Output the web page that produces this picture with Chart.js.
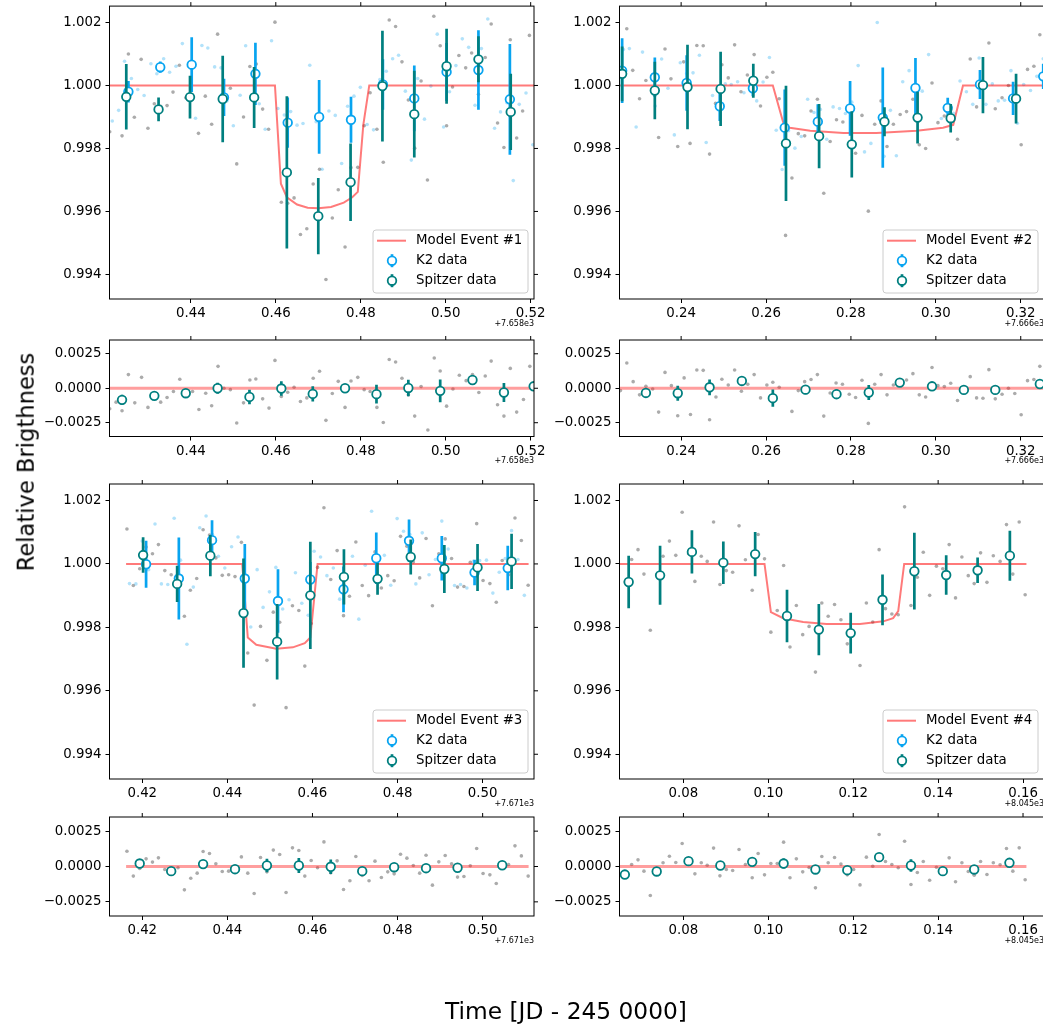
<!DOCTYPE html>
<html>
<head>
<meta charset="utf-8">
<script src="https://cdn.jsdelivr.net/npm/chart.js@4.4.1/dist/chart.umd.min.js"></script>
<style>
body{margin:0;width:1043px;height:1028px;overflow:hidden;background:#fff;position:relative}
canvas{position:absolute;left:0;top:0}
.lab{position:absolute;font-family:"DejaVu Sans",sans-serif;color:#000;white-space:nowrap;line-height:1}
#ylab{left:26px;top:462px;font-size:22.6px;transform:translate(-50%,-50%) rotate(-90deg)}
#xlab{left:566px;top:999px;font-size:23.3px;transform:translateX(-50%)}
</style>
</head>
<body>
<canvas id="m1" width="1100" height="1028"></canvas>
<canvas id="r1" width="1100" height="1028"></canvas>
<canvas id="m2" width="1100" height="1028"></canvas>
<canvas id="r2" width="1100" height="1028"></canvas>
<canvas id="m3" width="1100" height="1028"></canvas>
<canvas id="r3" width="1100" height="1028"></canvas>
<canvas id="m4" width="1100" height="1028"></canvas>
<canvas id="r4" width="1100" height="1028"></canvas>
<div class="lab" id="ylab">Relative Brigthness</div>
<div class="lab" id="xlab">Time [JD - 245 0000]</div>
<script>
// ---- shared axes ----
var mainYRange = [0.99322, 1.00252];
var mainYTicks = [0.994, 0.996, 0.998, 1.000, 1.002];
var resYRange = [-0.0035, 0.0035];
var resYTicks = [-0.0025, 0, 0.0025];

// ---- event #1 ----
var e1Offset = 7658;
var e1XRange = [0.42085, 0.52078];
var e1XTicks = [0.44, 0.46, 0.48, 0.50, 0.52];
var e1GreyTime = [0.4209,0.4238,0.4253,0.4267,0.4283,0.4299,0.4314,0.4329,0.4344,0.4358,0.4373,0.4388,0.4418,0.4434,0.4449,0.4463,0.4478,0.4493,0.4508,0.4524,0.4539,0.4554,0.4569,0.4583,0.4598,0.4613,0.4628,0.4643,0.4658,0.4673,0.4688,0.4703,0.4718,0.4733,0.4747,0.4763,0.4777,0.4793,0.4808,0.4822,0.4838,0.4853,0.4867,0.4882,0.4897,0.4912,0.4927,0.4942,0.4957,0.4972,0.4987,0.5002,0.5016,0.5031,0.5047,0.5061,0.5077,0.5093,0.5107,0.5122,0.5137,0.5152,0.5167,0.5181,0.5197];
var e1GreyFlux = [0.99853,0.99840,1.00100,0.99899,1.00083,0.99864,0.99942,0.99934,0.99936,0.99979,1.00064,0.99961,0.99848,0.99966,0.99877,1.00163,0.99961,0.99991,0.99751,0.99900,1.00060,1.00068,0.99925,0.99861,1.00201,0.99629,0.99626,0.99643,0.99527,0.99545,0.99687,0.99734,0.99384,0.99579,0.99669,0.99487,0.99739,0.99740,0.99872,0.99977,0.99861,0.99756,1.00208,1.00187,1.00075,0.99954,0.99801,1.00014,0.99700,1.00220,1.00126,0.99872,0.99995,1.00095,1.00056,1.00103,0.99972,1.00089,1.00195,0.99881,0.99803,1.00145,0.99833,0.99919,1.00159];
var e1K2Time = [0.4215,0.4230,0.4244,0.4260,0.4275,0.4290,0.4306,0.4320,0.4336,0.4350,0.4365,0.4380,0.4395,0.4411,0.4426,0.4440,0.4456,0.4471,0.4485,0.4500,0.4516,0.4529,0.4546,0.4561,0.4575,0.4590,0.4605,0.4620,0.4635,0.4650,0.4664,0.4680,0.4695,0.4709,0.4725,0.4740,0.4755,0.4769,0.4784,0.4799,0.4815,0.4830,0.4845,0.4860,0.4875,0.4889,0.4905,0.4919,0.4934,0.4950,0.4965,0.4980,0.4995,0.5009,0.5024,0.5039,0.5054,0.5069,0.5084,0.5099,0.5115,0.5129,0.5144,0.5159,0.5173,0.5189,0.5205];
var e1K2Flux = [0.99887,0.99921,1.00077,1.00022,0.99987,0.99968,1.00069,1.00037,1.00085,1.00042,1.00061,1.00133,1.00061,0.99896,1.00127,1.00119,1.00059,1.00056,0.99951,0.99872,0.99969,1.00126,1.00035,0.99942,0.99861,1.00142,0.99927,0.99906,0.99917,0.99874,0.99879,1.00064,0.99885,0.99734,0.99919,0.99905,0.99752,0.99934,0.99966,0.99994,0.99876,0.99859,1.00019,1.00045,1.00085,1.00096,0.99982,0.99763,1.00022,0.99893,0.99998,1.00163,0.99868,0.99980,1.00063,1.00148,1.00121,0.99937,1.00117,1.00211,0.99864,0.99916,0.99945,0.99698,0.99940,0.99976,0.99812];
var e1K2BinTime = [0.4253,0.4328,0.4402,0.4478,0.4552,0.4628,0.4702,0.4777,0.4852,0.4926,0.5002,0.5077,0.5151];
var e1K2BinFlux = [0.99980,1.00058,1.00066,0.99962,1.00037,0.99882,0.99900,0.99891,1.00003,0.99959,1.00043,1.00049,0.99956];
var e1K2BinErr = [0.00034,0.00018,0.00087,0.00059,0.00099,0.0008,0.00117,0.00073,0.0008,0.00104,0.00092,0.00126,0.00176];
var e1SpzBinTime = [0.4248,0.4324,0.4398,0.4475,0.4549,0.4626,0.4700,0.4776,0.4851,0.4926,0.5002,0.5077,0.5153];
var e1SpzBinFlux = [0.99964,0.99924,0.99963,0.99957,0.99962,0.99724,0.99585,0.99693,0.99998,0.99909,1.00061,1.00083,0.99916];
var e1SpzBinErr = [0.00104,0.00038,0.00068,0.00137,0.00097,0.00242,0.00121,0.00123,0.00176,0.00138,0.00119,0.00073,0.00121];
var e1ModelTime = [0.4209,0.4598,0.4612,0.4626,0.4650,0.4675,0.4700,0.4730,0.4760,0.4780,0.4793,0.4806,0.4820,0.5208];
var e1ModelFlux = [1,1,0.99688,0.99645,0.99622,0.99612,0.99610,0.99614,0.99628,0.99645,0.99662,0.99875,1,1];
var e1ResTime = [0.4209,0.4224,0.4238,0.4253,0.4268,0.4284,0.4299,0.4329,0.4344,0.4359,0.4374,0.4404,0.4419,0.4435,0.4449,0.4464,0.4478,0.4493,0.4508,0.4524,0.4539,0.4553,0.4569,0.4584,0.4598,0.4613,0.4628,0.4643,0.4658,0.4673,0.4688,0.4703,0.4718,0.4733,0.4747,0.4763,0.4777,0.4793,0.4808,0.4822,0.4838,0.4853,0.4867,0.4882,0.4897,0.4912,0.4927,0.4942,0.4958,0.4973,0.4987,0.5002,0.5017,0.5032,0.5048,0.5063,0.5078,0.5093,0.5107,0.5122,0.5137,0.5152,0.5167,0.5183,0.5198];
var e1ResFlux = [-0.00149,-0.00101,-0.00163,0.00099,-0.00106,0.00079,-0.00139,-0.00101,-0.00067,-0.00024,0.00065,-0.00024,-0.00154,-0.00036,-0.00127,0.00159,0.0,-0.0001,-0.00252,-0.00106,0.0006,0.00067,-0.00077,-0.00144,0.00202,-0.0006,-0.00029,0.00007,-0.00096,-0.0007,0.00072,0.00123,-0.00233,-0.00038,0.0005,-0.00139,0.00053,0.00079,-0.0001,-0.00024,-0.00139,-0.00248,0.00209,0.0019,0.00072,-0.00048,-0.00202,0.00012,-0.00303,0.00219,0.00125,-0.0013,-0.00005,0.00094,0.00055,0.00099,-0.00031,0.00089,0.00197,-0.0012,-0.00202,0.00144,-0.00173,-0.00082,0.00159];
var e1ResBinTime = [0.4238,0.4314,0.4388,0.4463,0.4538,0.4613,0.4687,0.4763,0.4837,0.4912,0.4987,0.5063,0.5137,0.5207];
var e1ResBinFlux = [-0.00084,-0.00055,-0.00036,0.0,-0.00063,-0.00002,-0.00041,0.0,-0.00043,0.00002,-0.00019,0.0006,-0.00031,0.00014];
var e1ResBinErr = [0.00036,0.0002,0.0002,0.0004,0.00053,0.00053,0.00055,0.00026,0.00068,0.0006,0.00082,0.00015,0.00069,0.0002];

// ---- event #2 ----
var e2Offset = 7666;
var e2XRange = [0.22548, 0.32548];
var e2XTicks = [0.24, 0.26, 0.28, 0.30, 0.32];
var e2GreyTime = [0.2272,0.2286,0.2302,0.2317,0.2347,0.2362,0.2376,0.2392,0.2406,0.2421,0.2437,0.2452,0.2467,0.2481,0.2496,0.2511,0.2526,0.2541,0.2556,0.2572,0.2587,0.2602,0.2616,0.2631,0.2646,0.2661,0.2676,0.2691,0.2706,0.2721,0.2736,0.2751,0.2766,0.2781,0.2811,0.2826,0.2841,0.2856,0.2871,0.2885,0.2900,0.2916,0.2931,0.2946,0.2961,0.2976,0.2991,0.3005,0.3020,0.3035,0.3051,0.3081,0.3096,0.3111,0.3125,0.3140,0.3156,0.3171,0.3186,0.3201,0.3216,0.3231,0.3245];
var e2GreyFlux = [1.0018,1.00048,0.99958,1.00016,0.99835,1.00116,1.00021,0.99806,1.00075,0.99816,1.00127,1.00126,0.99782,0.99943,1.00066,1.00024,1.00129,0.9998,1.00033,1.00098,0.99935,1.00026,1.00042,0.99958,0.99524,0.99706,0.99847,0.9984,0.99919,0.99956,0.99658,0.99822,0.99891,0.99884,0.99785,0.99905,0.99601,0.99877,0.99951,0.99806,0.99877,0.99908,0.99917,0.99956,0.99812,0.998,1.00008,0.99882,0.99903,0.99922,0.99829,1.00084,0.99932,1.00003,1.00135,0.99926,0.99961,1.0,0.99961,0.99812,1.00051,1.00061,1.00161];
var e2K2Time = [0.2264,0.2278,0.2294,0.2309,0.2339,0.2354,0.2369,0.2384,0.2398,0.2413,0.2428,0.2443,0.2459,0.2474,0.2489,0.2504,0.2518,0.2533,0.2548,0.2563,0.2578,0.2593,0.2608,0.2624,0.2638,0.2653,0.2668,0.2683,0.2698,0.2713,0.2728,0.2743,0.2758,0.2773,0.2787,0.2802,0.2817,0.2832,0.2847,0.2862,0.2878,0.2893,0.2907,0.2922,0.2937,0.2968,0.2983,0.3013,0.3027,0.3042,0.3057,0.3072,0.3087,0.3102,0.3118,0.3133,0.3147,0.3162,0.3177,0.3192,0.3207,0.3223,0.3238,0.3253];
var e2K2Flux = [1.00114,1.00117,0.99868,1.00106,0.99935,1.00084,0.99991,0.99843,1.00072,1.00038,1.0004,1.00096,0.99819,0.99968,0.99938,1.00005,1.00003,1.00012,0.99977,0.99998,0.99951,1.00011,1.00089,0.99858,0.99733,0.99856,0.99801,0.99838,0.99956,0.99914,0.99924,0.99829,0.99932,0.99927,0.99911,0.99947,1.00063,0.99789,0.99816,1.002,0.99775,0.99921,0.99777,1.00012,1.00047,0.99982,1.00098,0.99895,0.99919,0.99912,1.00014,0.9998,0.9994,1.00087,0.9994,1.00005,0.99951,0.99953,1.00047,0.9988,1.00003,0.99984,1.00029,1.00085];
var e2K2BinTime = [0.2261,0.2338,0.2413,0.2491,0.2569,0.2644,0.2722,0.2798,0.2875,0.2952,0.3028,0.3104,0.3182,0.3253];
var e2K2BinFlux = [1.00047,1.00026,1.00008,0.99934,0.99991,0.99866,0.99885,0.99927,0.99898,0.99992,0.99929,1.00003,0.99959,1.00029];
var e2K2BinErr = [0.00103,0.00063,0.00088,0.00047,0.00025,0.00121,0.00055,0.00087,0.00159,0.00095,0.00032,0.00046,0.00053,0.0004];
var e2SpzBinTime = [0.2261,0.2338,0.2415,0.2493,0.2570,0.2647,0.2725,0.2802,0.2879,0.2957,0.3035,0.3111,0.3189];
var e2SpzBinFlux = [1.00037,0.99984,0.99995,0.99989,1.00015,0.99816,0.99839,0.99813,0.99885,0.99898,0.99896,1.00001,0.99958];
var e2SpzBinErr = [0.00087,0.00091,0.00134,0.00118,0.00054,0.00183,0.00102,0.00105,0.00046,0.00082,0.00045,0.00089,0.00079];
var e2ModelTime = [0.2255,0.2616,0.2642,0.2656,0.2704,0.2782,0.2860,0.2955,0.3017,0.3041,0.3064,0.3255];
var e2ModelFlux = [1,1,0.99875,0.99866,0.99856,0.99849,0.99849,0.99856,0.99866,0.99875,1,1];
var e2ResTime = [0.2257,0.2272,0.2287,0.2302,0.2317,0.2333,0.2347,0.2362,0.2377,0.2392,0.2407,0.2422,0.2437,0.2452,0.2467,0.2482,0.2496,0.2511,0.2526,0.2542,0.2557,0.2572,0.2587,0.2602,0.2616,0.2631,0.2661,0.2676,0.2691,0.2706,0.2721,0.2736,0.2751,0.2765,0.2780,0.2796,0.2811,0.2826,0.2841,0.2856,0.2871,0.2885,0.2900,0.2915,0.2931,0.2946,0.2961,0.2976,0.2991,0.3005,0.3020,0.3035,0.3051,0.3066,0.3081,0.3096,0.3111,0.3125,0.3140,0.3156,0.3171,0.3186,0.3201,0.3216,0.3231,0.3245];
var e2ResFlux = [-0.00017,0.00183,0.00048,-0.00048,0.00014,-0.00005,-0.00173,0.00115,0.00019,-0.002,0.00075,-0.0019,0.00132,0.0013,-0.00228,-0.00063,0.00065,0.00024,0.00132,-0.00022,0.00029,0.00099,-0.0007,0.00024,0.00043,0.00007,-0.00168,-0.00017,0.00048,0.00063,0.00099,-0.00202,-0.00034,0.00038,0.00029,-0.00043,-0.00067,0.00058,-0.00255,0.00029,0.00099,-0.00048,0.00024,0.00048,0.0006,0.00106,-0.00048,-0.00063,0.00151,0.00019,0.00012,0.00036,-0.00089,0.0,0.00084,-0.0007,-0.00072,0.00135,-0.00077,-0.00043,0.0,-0.00038,-0.00192,0.00055,0.00063,0.00159];
var e2ResBinTime = [0.2317,0.2392,0.2467,0.2543,0.2616,0.2693,0.2766,0.2842,0.2915,0.2991,0.3066,0.3140,0.3245];
var e2ResBinFlux = [-0.00034,-0.00036,0.00007,0.00053,-0.00072,-0.0001,-0.00043,-0.00031,0.00041,0.00014,-0.00012,-0.00012,0.00031];
var e2ResBinErr = [0.00025,0.00055,0.00057,0.0002,0.00063,0.00034,0.00034,0.00054,0.0002,0.0002,0.0002,0.0003,0.0002];

// ---- event #3 ----
var e3Offset = 7671;
var e3XRange = [0.4123, 0.51207];
var e3XTicks = [0.42, 0.44, 0.46, 0.48, 0.50];
var e3GreyTime = [0.4164,0.4179,0.4194,0.4209,0.4224,0.4238,0.4253,0.4268,0.4283,0.4299,0.4313,0.4328,0.4343,0.4358,0.4373,0.4388,0.4403,0.4418,0.4433,0.4448,0.4463,0.4478,0.4493,0.4508,0.4523,0.4538,0.4553,0.4568,0.4582,0.4597,0.4612,0.4627,0.4643,0.4658,0.4673,0.4687,0.4702,0.4717,0.4732,0.4747,0.4762,0.4777,0.4792,0.4807,0.4822,0.4837,0.4852,0.4867,0.4882,0.4897,0.4912,0.4927,0.4941,0.4956,0.4971,0.4986,0.5001,0.5017,0.5032,0.5046,0.5061,0.5076,0.5091,0.5107];
var e3GreyFlux = [1.0011,0.99932,0.99985,1.00053,1.00032,1.00061,0.99979,0.99966,0.99956,0.99835,0.99917,0.99954,1.00108,1.00091,1.00019,0.99964,0.99966,0.9996,1.00068,0.99719,0.99555,0.99803,0.99696,0.99848,0.99816,0.99547,0.99868,0.99853,0.99678,0.99812,0.99989,1.00177,0.99951,1.00042,0.99837,0.99898,1.00069,0.99932,0.999,1.00038,0.99924,0.99963,0.99947,1.00087,1.00056,1.00006,0.99956,1.0008,0.99868,1.00032,1.00079,1.00017,0.99927,0.99929,1.00005,1.00127,0.99948,0.99938,0.99879,1.00011,0.99966,1.00145,1.00074,0.99933];
var e3K2Time = [0.4170,0.4185,0.4200,0.4215,0.4230,0.4245,0.4260,0.4275,0.4290,0.4305,0.4320,0.4335,0.4350,0.4365,0.4379,0.4394,0.4410,0.4425,0.4455,0.4470,0.4484,0.4499,0.4514,0.4530,0.4545,0.4560,0.4575,0.4590,0.4604,0.4619,0.4634,0.4649,0.4664,0.4679,0.4694,0.4709,0.4724,0.4739,0.4754,0.4769,0.4784,0.4799,0.4814,0.4829,0.4843,0.4858,0.4874,0.4889,0.4904,0.4919,0.4934,0.4948,0.4963,0.4978,0.4993,0.5009,0.5024,0.5039,0.5053,0.5068,0.5083,0.5098];
var e3K2Flux = [0.99938,0.99937,1.00072,0.99982,1.00126,0.99937,0.99935,1.00144,1.00012,0.99747,0.99927,1.00114,1.00151,1.00093,1.00024,0.99987,1.00054,1.00085,0.99801,0.99982,0.99863,0.99912,0.99989,0.99858,0.99887,0.99972,0.99876,0.99838,1.0004,1.00022,0.99963,0.99987,0.99889,0.99924,1.00024,0.99826,0.99996,1.00166,1.00011,1.00027,0.99933,1.00143,1.00103,1.00093,0.99937,1.00098,0.99966,1.00014,1.00135,1.00047,0.99932,0.99935,0.99924,1.00008,1.00011,1.00012,0.99908,0.99974,1.00017,1.00105,1.00014,0.99901];
var e3K2BinTime = [0.4209,0.4286,0.4364,0.4441,0.4519,0.4595,0.4673,0.4750,0.4827,0.4904,0.4981,0.5059];
var e3K2BinFlux = [0.99999,0.99954,1.00075,0.99954,0.99883,0.99951,0.9992,1.00018,1.00073,1.00018,0.99973,0.99987];
var e3K2BinErr = [0.00074,0.00129,0.00063,0.00109,0.001,0.00055,0.00072,0.00081,0.00067,0.0007,0.0004,0.0007];
var e3SpzBinTime = [0.4202,0.4282,0.4360,0.4438,0.4517,0.4595,0.4674,0.4753,0.4831,0.4910,0.4988,0.5068];
var e3SpzBinFlux = [1.00028,0.99937,1.00026,0.99845,0.99755,0.99901,0.99959,0.99953,1.00022,0.99984,0.99989,1.00008];
var e3SpzBinErr = [0.00056,0.00057,0.00065,0.00172,0.00119,0.00169,0.00087,0.0005,0.00055,0.00076,0.00074,0.00087];
var e3ModelTime = [0.4162,0.4435,0.4448,0.4468,0.4515,0.4554,0.4582,0.4595,0.4612,0.5108];
var e3ModelFlux = [1,1,0.99768,0.99745,0.99733,0.99737,0.9975,0.99768,1,1];
var e3ResTime = [0.4164,0.4179,0.4194,0.4209,0.4224,0.4238,0.4253,0.4268,0.4284,0.4299,0.4314,0.4329,0.4343,0.4358,0.4373,0.4388,0.4403,0.4418,0.4433,0.4448,0.4463,0.4478,0.4493,0.4508,0.4523,0.4538,0.4553,0.4568,0.4582,0.4597,0.4612,0.4627,0.4643,0.4658,0.4673,0.4688,0.4702,0.4717,0.4733,0.4747,0.4762,0.4777,0.4792,0.4807,0.4822,0.4837,0.4852,0.4867,0.4882,0.4897,0.4912,0.4927,0.4941,0.4956,0.4971,0.4986,0.5001,0.5017,0.5032,0.5046,0.5061,0.5076,0.5091,0.5107];
var e3ResFlux = [0.00108,-0.00068,-0.00014,0.00054,0.00031,0.00061,-0.00021,-0.00028,-0.00009,-0.00165,-0.00083,-0.00047,0.00106,0.00092,0.00019,-0.00035,-0.00033,-0.00005,0.00068,-0.00047,-0.00191,0.00064,-0.00038,0.00116,0.00085,-0.00184,0.00132,0.00113,-0.00068,0.00042,-0.00009,0.00174,-0.00045,0.0004,-0.00163,-0.00101,0.00071,-0.00064,-0.00101,0.00038,-0.00078,-0.00038,-0.00052,0.00087,0.00059,0.00007,-0.00047,0.0008,-0.00132,0.00033,0.00078,0.00019,-0.00075,-0.00071,0.00005,0.00127,-0.0005,-0.00059,-0.0012,0.00019,0.00014,0.00146,0.00075,-0.00068];
var e3ResBinTime = [0.4194,0.4268,0.4343,0.4418,0.4493,0.4568,0.4643,0.4717,0.4792,0.4867,0.4941,0.5046];
var e3ResBinFlux = [0.00021,-0.00033,0.00017,-0.00019,0.00007,0.00007,-0.00002,-0.00033,-0.00005,-0.00012,-0.00009,0.00009];
var e3ResBinErr = [0.00018,0.00015,0.00018,0.0001,0.00047,0.00053,0.00051,0.0002,0.0001,0.0001,0.0001,0.0001];

// ---- event #4 (no K2 coverage) ----
var e4Offset = 8045;
var e4XRange = [0.06494, 0.16494];
var e4XTicks = [0.08, 0.10, 0.12, 0.14, 0.16];
var e4GreyTime = [0.0663,0.0678,0.0693,0.0707,0.0722,0.0737,0.0752,0.0767,0.0782,0.0797,0.0812,0.0827,0.0842,0.0856,0.0871,0.0886,0.0901,0.0916,0.0931,0.0946,0.0962,0.0976,0.0991,0.1006,0.1021,0.1036,0.1051,0.1066,0.1081,0.1096,0.1111,0.1126,0.1141,0.1156,0.1171,0.1186,0.1201,0.1216,0.1231,0.1246,0.1261,0.1276,0.1291,0.1306,0.1321,0.1336,0.1351,0.1365,0.1380,0.1396,0.1411,0.1426,0.1441,0.1456,0.1471,0.1485,0.1500,0.1515,0.1530,0.1546,0.1561,0.1576,0.1591,0.1605];
var e4GreyFlux = [0.99943,1.00014,1.00045,0.99968,0.99791,0.99966,1.00024,1.00072,1.00027,1.00163,1.00032,0.99945,1.00024,1.00008,1.00132,0.99935,0.99979,0.99974,1.0012,1.00013,0.99917,1.00093,1.00016,0.99785,0.99853,0.99995,0.99738,0.99869,0.99777,0.99803,0.99659,0.99877,0.99835,0.99872,0.99824,0.99748,0.99785,0.9968,0.99877,0.99817,1.00045,0.99859,0.99842,0.9984,1.0018,0.99869,0.99958,1.00037,0.99901,0.99993,0.99985,1.00061,0.99893,1.00022,0.99963,0.99938,1.00035,0.99942,1.00026,1.00008,1.00124,0.99968,1.00132,0.99903];
var e4K2Time = [];
var e4K2Flux = [];
var e4K2BinTime = [];
var e4K2BinFlux = [];
var e4K2BinErr = [];
var e4SpzBinTime = [0.0671,0.0745,0.0820,0.0894,0.0969,0.1044,0.1119,0.1194,0.1269,0.1344,0.1419,0.1493,0.1569];
var e4SpzBinFlux = [0.99943,0.99964,1.00038,1.00004,1.00031,0.99836,0.99793,0.99782,0.99887,0.99977,0.99965,0.9998,1.00026];
var e4SpzBinErr = [0.00083,0.00093,0.00068,0.00067,0.0007,0.00083,0.00081,0.00064,0.0008,0.00121,0.00062,0.0004,0.00079];
var e4ModelTime = [0.0649,0.0991,0.1006,0.1035,0.1082,0.1137,0.1216,0.1271,0.1294,0.1306,0.1320,0.1608];
var e4ModelFlux = [1,1,0.99848,0.99829,0.99817,0.99811,0.99811,0.99819,0.99829,0.99851,1,1];
var e4ResTime = e4GreyTime;
var e4ResFlux = [-0.00071,0.00014,0.00047,-0.00033,-0.00205,-0.00057,0.00026,0.00073,0.00028,0.00163,0.0004,-0.00052,0.00026,0.00009,0.0013,-0.00066,-0.00021,-0.00028,0.0012,0.00014,-0.0008,0.00092,-0.00059,0.00021,0.00021,0.00172,-0.0008,0.00054,-0.00038,-0.00007,-0.00151,0.00071,0.00026,0.00064,0.00017,-0.00059,-0.00021,-0.0013,0.00066,0.00002,0.00226,0.00035,0.00014,-0.00009,0.00179,-0.00127,-0.00042,0.00035,-0.00097,-0.00005,-0.00009,0.00061,-0.00108,0.00026,-0.00035,-0.00061,0.00035,-0.00057,0.00026,0.00012,0.00127,-0.00033,0.00132,-0.00094];
var e4ResBinTime = [0.0662,0.0737,0.0812,0.0887,0.0962,0.1036,0.1111,0.1186,0.1261,0.1336,0.1411,0.1485,0.1568];
var e4ResBinFlux = [-0.00057,-0.00035,0.00038,0.00007,0.00033,0.00021,-0.00021,-0.00026,0.00066,0.00007,-0.00033,-0.00021,0.00026];
var e4ResBinErr = [0.0003,0.0003,0.0002,0.0002,0.0002,0.00035,0.0002,0.0002,0.0003,0.00045,0.0002,0.0002,0.0003];

// ---- styling ----
var FONT = "'DejaVu Sans', sans-serif";
var TEAL = '#007f7f';
var K2BLUE = '#08a4f0';
var K2RAW = 'rgba(0,160,240,0.3)';
var GREY = 'rgba(120,120,120,0.62)';
var MODEL = 'rgba(255,0,0,0.52)';
var ZERO = 'rgba(255,40,40,0.45)';
var CW = 1100, CH = 1028, YW = 80, XH = 30;

function pts(t, f) {
    var out = [];
    for (var i = 0; i < Math.min(t.length, f.length); i++) out.push({x: t[i], y: f[i]});
    return out;
}
function ptsErr(t, f, e) {
    var out = [];
    for (var i = 0; i < Math.min(t.length, f.length); i++) out.push({x: t[i], y: f[i], e: e[i]});
    return out;
}

// vertical error bars, drawn just before the markers of their own dataset
var errorBars = {
    id: 'errorBars',
    beforeDatasetDraw: function(chart, args) {
        var ds = chart.data.datasets[args.index];
        if (!ds.errColor) return;
        var ctx = chart.ctx, ca = chart.chartArea, xs = chart.scales.x, ys = chart.scales.y;
        ctx.save();
        ctx.beginPath();
        ctx.rect(ca.left, ca.top, ca.right - ca.left, ca.bottom - ca.top);
        ctx.clip();
        ctx.strokeStyle = ds.errColor;
        ctx.lineWidth = 2.7;
        ds.data.forEach(function(p) {
            var px = xs.getPixelForValue(p.x);
            ctx.beginPath();
            ctx.moveTo(px, ys.getPixelForValue(p.y - p.e));
            ctx.lineTo(px, ys.getPixelForValue(p.y + p.e));
            ctx.stroke();
        });
        ctx.restore();
    }
};
Chart.register(errorBars);

function roundRect(ctx, x, y, w, h, r) {
    ctx.beginPath();
    ctx.moveTo(x + r, y);
    ctx.lineTo(x + w - r, y); ctx.arcTo(x + w, y, x + w, y + r, r);
    ctx.lineTo(x + w, y + h - r); ctx.arcTo(x + w, y + h, x + w - r, y + h, r);
    ctx.lineTo(x + r, y + h); ctx.arcTo(x, y + h, x, y + h - r, r);
    ctx.lineTo(x, y + r); ctx.arcTo(x, y, x + r, y, r);
    ctx.closePath();
}

function legendMarker(ctx, x, y, col) {
    ctx.strokeStyle = col;
    ctx.lineWidth = 2.7;
    ctx.beginPath(); ctx.moveTo(x, y - 6.5); ctx.lineTo(x, y + 6.5); ctx.stroke();
    ctx.beginPath(); ctx.arc(x, y, 4.3, 0, Math.PI * 2);
    ctx.fillStyle = '#fff'; ctx.fill();
    ctx.lineWidth = 1.8; ctx.stroke();
}

// frame, mirrored ticks, offset text and legend
function decoPlugin(offset, legendTitle) {
    return {
        id: 'deco',
        afterDraw: function(chart) {
            var ctx = chart.ctx, ca = chart.chartArea, xs = chart.scales.x, ys = chart.scales.y;
            ctx.save();
            ctx.strokeStyle = '#000';
            ctx.lineWidth = 1;
            ctx.strokeRect(ca.left, ca.top, ca.right - ca.left, ca.bottom - ca.top);
            ctx.beginPath();
            xs.ticks.forEach(function(t) {
                var px = xs.getPixelForValue(t.value);
                ctx.moveTo(px, ca.top); ctx.lineTo(px, ca.top - 4);
            });
            ys.ticks.forEach(function(t) {
                var py = ys.getPixelForValue(t.value);
                ctx.moveTo(ca.right, py); ctx.lineTo(ca.right + 4, py);
            });
            ctx.stroke();

            ctx.fillStyle = '#000';
            ctx.font = '8px ' + FONT;
            ctx.textAlign = 'right';
            ctx.textBaseline = 'middle';
            ctx.fillText('+' + (offset / 1000).toFixed(3) + 'e3', ca.right, ca.bottom + 24.5);

            if (legendTitle) {
                var bw = 155, bh = 63;
                var bx = ca.right - 6 - bw, by = ca.bottom - 6 - bh;
                roundRect(ctx, bx, by, bw, bh, 3);
                ctx.fillStyle = 'rgba(255,255,255,0.8)';
                ctx.fill();
                ctx.strokeStyle = '#cccccc';
                ctx.lineWidth = 1;
                ctx.stroke();
                var rows = [by + 10.7, by + 30.7, by + 50.7];
                ctx.strokeStyle = MODEL;
                ctx.lineWidth = 2;
                ctx.beginPath(); ctx.moveTo(bx + 4, rows[0]); ctx.lineTo(bx + 33, rows[0]); ctx.stroke();
                legendMarker(ctx, bx + 19, rows[1], K2BLUE);
                legendMarker(ctx, bx + 19, rows[2], TEAL);
                ctx.fillStyle = '#000';
                ctx.font = '13.33px ' + FONT;
                ctx.textAlign = 'left';
                ctx.textBaseline = 'middle';
                ctx.fillText(legendTitle, bx + 43, rows[0]);
                ctx.fillText('K2 data', bx + 43, rows[1]);
                ctx.fillText('Spitzer data', bx + 43, rows[2]);
            }
            ctx.restore();
        }
    };
}

function makePanel(id, box, xRange, xTicks, yRange, yTicks, yFmt, offset, datasets, legendTitle) {
    var tickFont = {family: FONT, size: 13.33};
    return new Chart(document.getElementById(id), {
        type: 'scatter',
        data: {datasets: datasets},
        plugins: [decoPlugin(offset, legendTitle)],
        options: {
            responsive: false,
            animation: false,
            events: [],
            layout: {padding: {left: box.l - YW, top: box.t, right: CW - box.r, bottom: CH - box.b - XH}},
            plugins: {legend: {display: false}, tooltip: {enabled: false}},
            scales: {
                x: {
                    type: 'linear', position: 'bottom', min: xRange[0], max: xRange[1],
                    afterBuildTicks: function(s) { s.ticks = xTicks.map(function(v) { return {value: v}; }); },
                    afterFit: function(s) { s.height = XH; s.paddingLeft = 0; s.paddingRight = 0; },
                    grid: {drawOnChartArea: false, drawTicks: true, tickLength: 4, tickColor: '#000', tickWidth: 1},
                    border: {display: false},
                    ticks: {autoSkip: false, maxRotation: 0, padding: 3, color: '#000', font: tickFont,
                        callback: function(v) { return v.toFixed(2); }}
                },
                y: {
                    type: 'linear', position: 'left', min: yRange[0], max: yRange[1],
                    afterBuildTicks: function(s) { s.ticks = yTicks.map(function(v) { return {value: v}; }); },
                    afterFit: function(s) { s.width = YW; s.paddingTop = 0; s.paddingBottom = 0; },
                    grid: {drawOnChartArea: false, drawTicks: true, tickLength: 4, tickColor: '#000', tickWidth: 1},
                    border: {display: false},
                    ticks: {autoSkip: false, padding: 4, color: '#000', font: tickFont, callback: yFmt}
                }
            }
        }
    });
}

function mainSets(ev) {
    return [
        {data: ptsErr(ev.spzT, ev.spzF, ev.spzE), order: 1, clip: 0, errColor: TEAL,
         pointRadius: 4.3, pointBorderWidth: 1.8, pointBackgroundColor: '#fff', pointBorderColor: TEAL},
        {data: ptsErr(ev.k2bT, ev.k2bF, ev.k2bE), order: 2, clip: 0, errColor: K2BLUE,
         pointRadius: 4.3, pointBorderWidth: 1.8, pointBackgroundColor: '#fff', pointBorderColor: K2BLUE},
        {data: pts(ev.modT, ev.modF), order: 3, clip: 0, showLine: true, tension: 0,
         borderColor: MODEL, borderWidth: 2, pointRadius: 0},
        {data: pts(ev.k2T, ev.k2F), order: 4, clip: 0, pointRadius: 1.8, pointBorderWidth: 0, pointBackgroundColor: K2RAW},
        {data: pts(ev.grT, ev.grF), order: 5, clip: 0, pointRadius: 1.8, pointBorderWidth: 0, pointBackgroundColor: GREY}
    ];
}
function resSets(ev) {
    var lineT = [ev.modT[0], ev.modT[ev.modT.length - 1]];
    return [
        {data: ptsErr(ev.rbT, ev.rbF, ev.rbE), order: 1, clip: 0, errColor: TEAL,
         pointRadius: 4.3, pointBorderWidth: 1.8, pointBackgroundColor: '#fff', pointBorderColor: TEAL},
        {data: pts(lineT, [0, 0]), order: 2, clip: 0, showLine: true, borderColor: ZERO, borderWidth: 3, pointRadius: 0},
        {data: pts(ev.rT, ev.rF), order: 3, clip: 0, pointRadius: 1.8, pointBorderWidth: 0, pointBackgroundColor: GREY}
    ];
}

var events = [
    {grT: e1GreyTime, grF: e1GreyFlux, k2T: e1K2Time, k2F: e1K2Flux, k2bT: e1K2BinTime, k2bF: e1K2BinFlux, k2bE: e1K2BinErr,
     spzT: e1SpzBinTime, spzF: e1SpzBinFlux, spzE: e1SpzBinErr, modT: e1ModelTime, modF: e1ModelFlux,
     rT: e1ResTime, rF: e1ResFlux, rbT: e1ResBinTime, rbF: e1ResBinFlux, rbE: e1ResBinErr},
    {grT: e2GreyTime, grF: e2GreyFlux, k2T: e2K2Time, k2F: e2K2Flux, k2bT: e2K2BinTime, k2bF: e2K2BinFlux, k2bE: e2K2BinErr,
     spzT: e2SpzBinTime, spzF: e2SpzBinFlux, spzE: e2SpzBinErr, modT: e2ModelTime, modF: e2ModelFlux,
     rT: e2ResTime, rF: e2ResFlux, rbT: e2ResBinTime, rbF: e2ResBinFlux, rbE: e2ResBinErr},
    {grT: e3GreyTime, grF: e3GreyFlux, k2T: e3K2Time, k2F: e3K2Flux, k2bT: e3K2BinTime, k2bF: e3K2BinFlux, k2bE: e3K2BinErr,
     spzT: e3SpzBinTime, spzF: e3SpzBinFlux, spzE: e3SpzBinErr, modT: e3ModelTime, modF: e3ModelFlux,
     rT: e3ResTime, rF: e3ResFlux, rbT: e3ResBinTime, rbF: e3ResBinFlux, rbE: e3ResBinErr},
    {grT: e4GreyTime, grF: e4GreyFlux, k2T: e4K2Time, k2F: e4K2Flux, k2bT: e4K2BinTime, k2bF: e4K2BinFlux, k2bE: e4K2BinErr,
     spzT: e4SpzBinTime, spzF: e4SpzBinFlux, spzE: e4SpzBinErr, modT: e4ModelTime, modF: e4ModelFlux,
     rT: e4ResTime, rF: e4ResFlux, rbT: e4ResBinTime, rbF: e4ResBinFlux, rbE: e4ResBinErr}
];
var offsets = [e1Offset, e2Offset, e3Offset, e4Offset];
var xRanges = [e1XRange, e2XRange, e3XRange, e4XRange];
var xTickSets = [e1XTicks, e2XTicks, e3XTicks, e4XTicks];

// panel boxes in page pixels
var cols = [{l: 109.5, r: 534}, {l: 619.5, r: 1044}];
var mainRows = [{t: 5, b: 299}, {t: 484, b: 779}];
var resRows = [{t: 340, b: 436.5}, {t: 817, b: 916}];

var fmtMain = function(v) { return v.toFixed(3); };
var fmtRes = function(v) { return (v < 0 ? '\u2212' : '') + Math.abs(v).toFixed(4); };

for (var k = 0; k < 4; k++) {
    var c = cols[k % 2], rowI = Math.floor(k / 2);
    var mb = {l: c.l, r: c.r, t: mainRows[rowI].t, b: mainRows[rowI].b};
    var rb = {l: c.l, r: c.r, t: resRows[rowI].t, b: resRows[rowI].b};
    makePanel('m' + (k + 1), mb, xRanges[k], xTickSets[k], mainYRange, mainYTicks, fmtMain, offsets[k],
              mainSets(events[k]), 'Model Event #' + (k + 1));
    makePanel('r' + (k + 1), rb, xRanges[k], xTickSets[k], resYRange, resYTicks, fmtRes, offsets[k],
              resSets(events[k]), null);
}
</script>
</body>
</html>
